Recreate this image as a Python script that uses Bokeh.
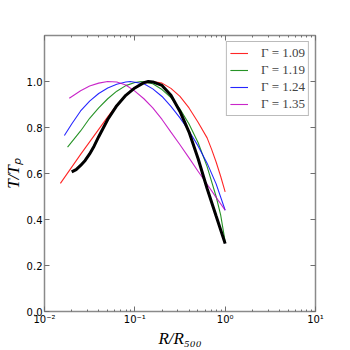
import math
from bokeh.plotting import figure
from bokeh.models import (FixedTicker, LogAxis, LinearAxis, Legend, LegendItem, CustomJSTickFormatter)
from bokeh.embed import file_html
from bokeh.resources import INLINE

# ---- data ----
series_labels = ["Γ = 1.09", "Γ = 1.19", "Γ = 1.24", "Γ = 1.35"]
series_colors = ["#ff0000", "#008000", "#0000ff", "#bf00bf"]

r_109 = [0.015, 0.0251, 0.0398, 0.0501, 0.0631, 0.0794, 0.1, 0.126, 0.158, 0.2, 0.251, 0.316, 0.398, 0.501, 0.631, 0.708, 0.794, 0.891, 1.0]
t_109 = [0.557, 0.683, 0.792, 0.846, 0.897, 0.940, 0.972, 0.993, 1.0, 0.993, 0.970, 0.935, 0.885, 0.823, 0.755, 0.705, 0.650, 0.588, 0.52]

r_119 = [0.018, 0.0251, 0.0316, 0.0398, 0.0501, 0.0631, 0.0794, 0.1, 0.1175, 0.158, 0.2, 0.251, 0.316, 0.398, 0.501, 0.631, 0.794, 0.891, 1.0]
t_119 = [0.715, 0.785, 0.840, 0.885, 0.925, 0.958, 0.982, 0.996, 1.0, 0.990, 0.965, 0.930, 0.880, 0.815, 0.735, 0.630, 0.500, 0.420, 0.304]

r_124 = [0.0166, 0.02, 0.0251, 0.0316, 0.0398, 0.0501, 0.0631, 0.0794, 0.0891, 0.126, 0.158, 0.2, 0.251, 0.316, 0.398, 0.501, 0.631, 0.794, 1.0]
t_124 = [0.765, 0.815, 0.872, 0.915, 0.948, 0.972, 0.988, 0.998, 1.0, 0.990, 0.968, 0.935, 0.892, 0.842, 0.785, 0.720, 0.645, 0.555, 0.44]

r_135 = [0.0188, 0.0251, 0.0316, 0.0398, 0.0501, 0.0631, 0.0794, 0.1, 0.126, 0.158, 0.2, 0.251, 0.316, 0.398, 0.501, 0.631, 0.794, 1.0]
t_135 = [0.927, 0.960, 0.980, 0.993, 1.0, 0.998, 0.985, 0.958, 0.925, 0.885, 0.835, 0.780, 0.725, 0.668, 0.610, 0.553, 0.496, 0.44]

r_obs = [0.02, 0.0224, 0.0251, 0.0282, 0.0316, 0.0355, 0.0398, 0.0501, 0.0631, 0.0794, 0.1, 0.126, 0.141, 0.158, 0.2, 0.251, 0.316, 0.398, 0.501, 0.631, 0.794, 1.0]
t_obs = [0.607, 0.617, 0.635, 0.657, 0.685, 0.720, 0.760, 0.835, 0.895, 0.940, 0.972, 0.995, 1.0, 0.998, 0.983, 0.940, 0.870, 0.780, 0.665, 0.535, 0.415, 0.295]

x_major = [0.01, 0.1, 1.0, 10.0]
x_major_labels = ["10⁻²", "10⁻¹", "10⁰", "10¹"]
x_minor = [m * d for d in (0.01, 0.1, 1.0) for m in range(2, 10)]
y_major = [0.0, 0.2, 0.4, 0.6, 0.8, 1.0]
y_major_labels = ["0.0", "0.2", "0.4", "0.6", "0.8", "1.0"]
x_title = "R/R₅₀₀"
y_title = "T/Tₚ"

FRAME = "#8a8a8a"
TICK = "#6e6e6e"
W = 350

p = figure(width=W, height=W, x_axis_type="log", x_range=(0.01, 10), y_range=(0, 1.2),
           output_backend="svg", toolbar_location=None,
           min_border_left=43, min_border_right=W - 315, min_border_top=35, min_border_bottom=W - 314)
p.grid.visible = False
p.outline_line_color = FRAME
p.outline_line_width = 1.5
p.background_fill_color = "white"
p.border_fill_color = "white"

xt = FixedTicker(ticks=x_major, minor_ticks=x_minor)
yt = FixedTicker(ticks=y_major)

X_CODE = """
let best = -1, bd = 1e9;
for (let i = 0; i < tv.length; i++) {
  const d = Math.abs(Math.log10(tv[i]) - Math.log10(tick));
  if (d < bd) { bd = d; best = i; }
}
return (best >= 0 && bd < 1e-6) ? tl[best] : "";
"""
Y_CODE = """
let best = -1, bd = 1e9;
for (let i = 0; i < tv.length; i++) {
  const d = Math.abs(tv[i] - tick);
  if (d < bd) { bd = d; best = i; }
}
return (best >= 0 && bd < 1e-6) ? tl[best] : "";
"""
x_fmt = CustomJSTickFormatter(args=dict(tv=x_major, tl=x_major_labels), code=X_CODE)
y_fmt = CustomJSTickFormatter(args=dict(tv=y_major, tl=y_major_labels), code=Y_CODE)

def style_axis(ax, labels=True):
    ax.axis_line_color = None
    ax.major_tick_line_color = TICK
    ax.minor_tick_line_color = TICK
    ax.major_tick_in = 5
    ax.major_tick_out = 0
    ax.minor_tick_in = 2
    ax.minor_tick_out = 0
    ax.major_label_text_font = "DejaVu Sans"
    ax.major_label_text_font_size = "10px"
    ax.major_label_text_color = "black"
    ax.major_label_standoff = 2
    ax.axis_label_text_font = "Liberation Serif"
    ax.axis_label_text_font_style = "italic"
    ax.axis_label_text_font_size = "17px"
    ax.axis_label_text_color = "black"
    ax.axis_label_standoff = 1
    if not labels:
        ax.major_label_text_color = None

p.xaxis.ticker = xt
p.yaxis.ticker = yt
style_axis(p.xaxis[0])
style_axis(p.yaxis[0])
p.xaxis[0].formatter = x_fmt
p.yaxis[0].formatter = y_fmt
p.xaxis[0].axis_label = x_title
p.yaxis[0].axis_label = y_title
p.yaxis[0].minor_tick_line_color = None

top = LogAxis(ticker=xt)
style_axis(top, labels=False)
p.add_layout(top, "above")
right = LinearAxis(ticker=yt)
style_axis(right, labels=False)
right.minor_tick_line_color = None
p.add_layout(right, "right")

items = []
for r, t, c, lab in zip([r_109, r_119, r_124, r_135], [t_109, t_119, t_124, t_135], series_colors, series_labels):
    gl = p.line(r, t, line_color=c, line_width=1.1, line_alpha=0.85)
    items.append(LegendItem(label=lab, renderers=[gl]))
p.line(r_obs, t_obs, line_color="black", line_width=3)

legend = Legend(items=items, location="top_right", margin=6, padding=3, spacing=1,
                glyph_width=18, glyph_height=14, label_standoff=13, label_height=14,
                label_text_font="Liberation Serif", label_text_font_size="13px",
                border_line_color="#777777", border_line_width=1,
                background_fill_color="white", background_fill_alpha=1.0)
p.add_layout(legend, "center")

open("out.html", "w").write(file_html(p, INLINE))
